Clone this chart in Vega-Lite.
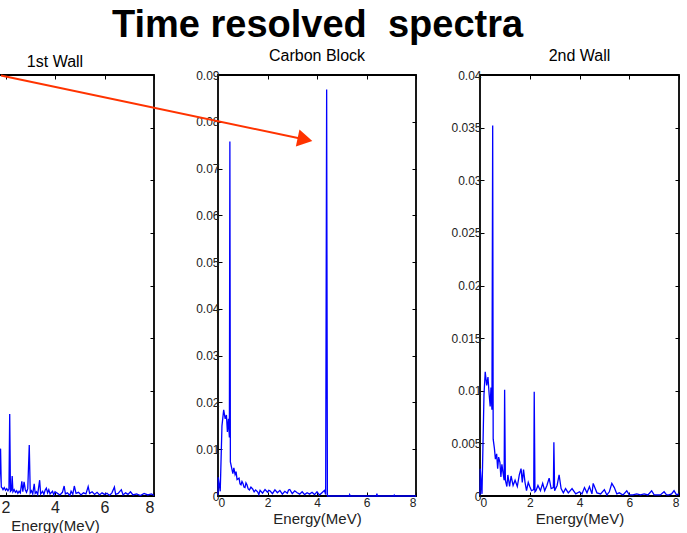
{
  "$schema": "https://vega.github.io/schema/vega-lite/v6.json",
  "background": "white",
  "padding": {"left": -48, "top": 7, "right": 4, "bottom": 0},
  "title": {"text": "Time resolved\u00a0 spectra", "font": "Liberation Sans", "fontSize": 38, "fontWeight": "bold", "anchor": "middle", "offset": 2, "color": "black"},
  "config": {
    "view": {"stroke": "black", "strokeWidth": 1.8},
    "title": {"font": "Liberation Sans", "fontSize": 16, "fontWeight": "normal", "color": "black", "offset": 5},
    "axis": {"domain": false, "grid": false, "tickColor": "black", "tickSize": -4, "tickWidth": 1, "labelFont": "Liberation Sans", "labelFontSize": 12, "labelColor": "#222", "titleFont": "Liberation Sans", "titleFontSize": 15, "titleFontWeight": "normal", "titleColor": "#222", "labelPadding": 4, "titlePadding": 4}
  },
  "datasets": {
    "wall1": [
      {"e": 0, "v": 0}, {"e": 0.05, "v": 0.006}, {"e": 0.1, "v": 0.012}, {"e": 0.2, "v": 0.016}, {"e": 0.3, "v": 0.015}, {"e": 0.4, "v": 0.013},
      {"e": 0.48, "v": 0.05}, {"e": 0.52, "v": 0.007}, {"e": 0.6, "v": 0.006}, {"e": 0.8, "v": 0.004}, {"e": 1.0, "v": 0.008}, {"e": 1.05, "v": 0.003},
      {"e": 1.2, "v": 0.003}, {"e": 1.4, "v": 0.002}, {"e": 1.6, "v": 0.0025}, {"e": 1.75, "v": 0.002}, {"e": 1.8, "v": 0.009}, {"e": 1.83, "v": 0.0017},
      {"e": 1.87, "v": 0.0015}, {"e": 1.9, "v": 0.0012}, {"e": 1.95, "v": 0.0016}, {"e": 2.0, "v": 0.0011}, {"e": 2.05, "v": 0.0014}, {"e": 2.1, "v": 0.001},
      {"e": 2.14, "v": 0.0013}, {"e": 2.17, "v": 0.0156}, {"e": 2.2, "v": 0.0009}, {"e": 2.24, "v": 0.0011}, {"e": 2.27, "v": 0.0038}, {"e": 2.3, "v": 0.0008},
      {"e": 2.35, "v": 0.0012}, {"e": 2.4, "v": 0.0007}, {"e": 2.45, "v": 0.001}, {"e": 2.5, "v": 0.0005}, {"e": 2.55, "v": 0.0009}, {"e": 2.6, "v": 0.0006},
      {"e": 2.66, "v": 0.0028}, {"e": 2.7, "v": 0.0008}, {"e": 2.75, "v": 0.0027}, {"e": 2.8, "v": 0.0012}, {"e": 2.85, "v": 0.0007}, {"e": 2.9, "v": 0.0014},
      {"e": 2.96, "v": 0.0097}, {"e": 3.0, "v": 0.0006}, {"e": 3.05, "v": 0.001}, {"e": 3.1, "v": 0.0004}, {"e": 3.16, "v": 0.0023}, {"e": 3.2, "v": 0.0005},
      {"e": 3.25, "v": 0.0008}, {"e": 3.3, "v": 0.0003}, {"e": 3.38, "v": 0.003}, {"e": 3.42, "v": 0.0004}, {"e": 3.5, "v": 0.0009}, {"e": 3.55, "v": 0.0003},
      {"e": 3.6, "v": 0.0011}, {"e": 3.65, "v": 0.0015}, {"e": 3.7, "v": 0.0006}, {"e": 3.75, "v": 0.0012}, {"e": 3.8, "v": 0.0004}, {"e": 3.9, "v": 0.0009},
      {"e": 3.95, "v": 0.0002}, {"e": 4.0, "v": 0.0008}, {"e": 4.1, "v": 0.0005}, {"e": 4.2, "v": 0.0002}, {"e": 4.3, "v": 0.0007}, {"e": 4.37, "v": 0.0019},
      {"e": 4.42, "v": 0.0004}, {"e": 4.5, "v": 0.0006}, {"e": 4.6, "v": 0.0001}, {"e": 4.65, "v": 0.0009}, {"e": 4.72, "v": 0.0003}, {"e": 4.78, "v": 0.0019},
      {"e": 4.85, "v": 0.0005}, {"e": 4.95, "v": 0.0007}, {"e": 5.05, "v": 0.0002}, {"e": 5.15, "v": 0.0006}, {"e": 5.25, "v": 0.0004}, {"e": 5.34, "v": 0.0018},
      {"e": 5.4, "v": 0.0005}, {"e": 5.5, "v": 0.0008}, {"e": 5.6, "v": 0.0003}, {"e": 5.7, "v": 0.0007}, {"e": 5.8, "v": 0.0002}, {"e": 5.9, "v": 0.0006},
      {"e": 6.0, "v": 0.0003}, {"e": 6.1, "v": 0.0005}, {"e": 6.2, "v": 0.0001}, {"e": 6.3, "v": 0.0006}, {"e": 6.4, "v": 0.0017}, {"e": 6.45, "v": 0.0003},
      {"e": 6.55, "v": 0.0005}, {"e": 6.68, "v": 0.0012}, {"e": 6.75, "v": 0.0002}, {"e": 6.85, "v": 0.0006}, {"e": 6.95, "v": 0.0003}, {"e": 7.05, "v": 0.0008},
      {"e": 7.15, "v": 0.0002}, {"e": 7.3, "v": 0.0004}, {"e": 7.45, "v": 0.0001}, {"e": 7.6, "v": 0.0005}, {"e": 7.75, "v": 0.0002}, {"e": 7.9, "v": 0.0004},
      {"e": 8.0, "v": 0.0001}
    ],
    "carbon": [
      {"e": 0, "v": 0.0002}, {"e": 0.01, "v": 0.004}, {"e": 0.09, "v": 0.001}, {"e": 0.16, "v": 0.015}, {"e": 0.23, "v": 0.0184}, {"e": 0.29, "v": 0.0165},
      {"e": 0.34, "v": 0.0173}, {"e": 0.38, "v": 0.0137}, {"e": 0.42, "v": 0.0165}, {"e": 0.46, "v": 0.0125}, {"e": 0.48, "v": 0.0758}, {"e": 0.5, "v": 0.0073},
      {"e": 0.56, "v": 0.0058}, {"e": 0.6, "v": 0.0048}, {"e": 0.64, "v": 0.006}, {"e": 0.69, "v": 0.0046}, {"e": 0.73, "v": 0.0052}, {"e": 0.77, "v": 0.0035},
      {"e": 0.85, "v": 0.0038}, {"e": 0.89, "v": 0.0026}, {"e": 0.93, "v": 0.0024}, {"e": 0.97, "v": 0.0031}, {"e": 1.01, "v": 0.0027}, {"e": 1.05, "v": 0.0019},
      {"e": 1.09, "v": 0.0018}, {"e": 1.13, "v": 0.0028}, {"e": 1.17, "v": 0.0024}, {"e": 1.22, "v": 0.0015}, {"e": 1.27, "v": 0.0013}, {"e": 1.33, "v": 0.0019},
      {"e": 1.4, "v": 0.0015}, {"e": 1.46, "v": 0.0009}, {"e": 1.52, "v": 0.0013}, {"e": 1.6, "v": 0.0009}, {"e": 1.65, "v": 0.0003}, {"e": 1.7, "v": 0.0012},
      {"e": 1.8, "v": 0.0006}, {"e": 1.9, "v": 0.0014}, {"e": 2.0, "v": 0.0008}, {"e": 2.05, "v": 0.0012}, {"e": 2.1, "v": 0.0011}, {"e": 2.2, "v": 0.0005},
      {"e": 2.3, "v": 0.0013}, {"e": 2.4, "v": 0.0007}, {"e": 2.5, "v": 0.0012}, {"e": 2.6, "v": 0.0004}, {"e": 2.7, "v": 0.001}, {"e": 2.8, "v": 0.0006},
      {"e": 2.85, "v": 0.0013}, {"e": 2.9, "v": 0.0014}, {"e": 3.0, "v": 0.0005}, {"e": 3.1, "v": 0.0011}, {"e": 3.2, "v": 0.0007}, {"e": 3.3, "v": 0.0004},
      {"e": 3.4, "v": 0.0009}, {"e": 3.5, "v": 0.0003}, {"e": 3.6, "v": 0.0007}, {"e": 3.7, "v": 0.0004}, {"e": 3.8, "v": 0.0008}, {"e": 3.9, "v": 0.0003},
      {"e": 4.0, "v": 0.0009}, {"e": 4.1, "v": 0.0002}, {"e": 4.2, "v": 0.0007}, {"e": 4.3, "v": 0.0012}, {"e": 4.35, "v": 0.0003}, {"e": 4.39, "v": 0.0869},
      {"e": 4.42, "v": 0}, {"e": 5.3, "v": 0}, {"e": 5.32, "v": 0.0003}, {"e": 5.34, "v": 0}, {"e": 6.4, "v": 0}, {"e": 6.42, "v": 0.0005},
      {"e": 6.44, "v": 0}, {"e": 7.1, "v": 0}, {"e": 7.12, "v": 0.0002}, {"e": 7.14, "v": 0}, {"e": 8.0, "v": 0}
    ],
    "wall2": [
      {"e": 0, "v": 0.0001}, {"e": 0.01, "v": 0.0026}, {"e": 0.08, "v": 0.0002}, {"e": 0.16, "v": 0.0096}, {"e": 0.21, "v": 0.0118}, {"e": 0.27, "v": 0.0105},
      {"e": 0.32, "v": 0.0113}, {"e": 0.37, "v": 0.0096}, {"e": 0.41, "v": 0.0085}, {"e": 0.44, "v": 0.0103}, {"e": 0.48, "v": 0.0082}, {"e": 0.51, "v": 0.0352},
      {"e": 0.53, "v": 0.0054}, {"e": 0.58, "v": 0.0045}, {"e": 0.62, "v": 0.0035}, {"e": 0.67, "v": 0.004}, {"e": 0.71, "v": 0.0026}, {"e": 0.75, "v": 0.0037},
      {"e": 0.8, "v": 0.0032}, {"e": 0.84, "v": 0.0018}, {"e": 0.88, "v": 0.003}, {"e": 0.92, "v": 0.0023}, {"e": 0.97, "v": 0.0015}, {"e": 0.99, "v": 0.0101},
      {"e": 1.02, "v": 0.0015}, {"e": 1.08, "v": 0.0009}, {"e": 1.12, "v": 0.002}, {"e": 1.19, "v": 0.0009}, {"e": 1.25, "v": 0.0019}, {"e": 1.33, "v": 0.001},
      {"e": 1.41, "v": 0.0015}, {"e": 1.5, "v": 0.0009}, {"e": 1.58, "v": 0.002}, {"e": 1.65, "v": 0.0026}, {"e": 1.7, "v": 0.0013}, {"e": 1.75, "v": 0.0025},
      {"e": 1.81, "v": 0.0013}, {"e": 1.87, "v": 0.0005}, {"e": 1.94, "v": 0.0013}, {"e": 2.0, "v": 0.0009}, {"e": 2.07, "v": 0.0005}, {"e": 2.16, "v": 0.0006},
      {"e": 2.18, "v": 0.0099}, {"e": 2.21, "v": 0.0004}, {"e": 2.25, "v": 0.0005}, {"e": 2.33, "v": 0.001}, {"e": 2.43, "v": 0.0005}, {"e": 2.52, "v": 0.0012},
      {"e": 2.6, "v": 0.0005}, {"e": 2.69, "v": 0.001}, {"e": 2.78, "v": 0.0017}, {"e": 2.86, "v": 0.0007}, {"e": 2.95, "v": 0.0008}, {"e": 2.97, "v": 0.0051},
      {"e": 3.0, "v": 0.0005}, {"e": 3.1, "v": 0.001}, {"e": 3.18, "v": 0.002}, {"e": 3.26, "v": 0.0007}, {"e": 3.35, "v": 0.0003}, {"e": 3.44, "v": 0.0007},
      {"e": 3.55, "v": 0.0003}, {"e": 3.7, "v": 0.0007}, {"e": 3.85, "v": 0.0002}, {"e": 4.0, "v": 0.0004}, {"e": 4.1, "v": 0.0002}, {"e": 4.2, "v": 0.0008},
      {"e": 4.3, "v": 0.0003}, {"e": 4.4, "v": 0.0009}, {"e": 4.5, "v": 0.0002}, {"e": 4.55, "v": 0.0012}, {"e": 4.7, "v": 0.0003}, {"e": 4.85, "v": 0.0002},
      {"e": 5.0, "v": 0.0006}, {"e": 5.1, "v": 0.0001}, {"e": 5.2, "v": 0.0004}, {"e": 5.3, "v": 0.0012}, {"e": 5.4, "v": 0.0008}, {"e": 5.5, "v": 0.0002},
      {"e": 5.6, "v": 0.0003}, {"e": 5.75, "v": 0.0001}, {"e": 5.9, "v": 0.0005}, {"e": 6.0, "v": 0.0001}, {"e": 6.15, "v": 0.0001}, {"e": 6.3, "v": 0.0002},
      {"e": 6.45, "v": 0.0001}, {"e": 6.6, "v": 0.0002}, {"e": 6.75, "v": 0.0001}, {"e": 6.9, "v": 0.0005}, {"e": 7.0, "v": 0.0001}, {"e": 7.1, "v": 0.0001},
      {"e": 7.25, "v": 0.0001}, {"e": 7.4, "v": 0.0004}, {"e": 7.5, "v": 0.0001}, {"e": 7.6, "v": 0.0001}, {"e": 7.7, "v": 0.0002}, {"e": 7.8, "v": 0.0005},
      {"e": 7.9, "v": 0.0001}, {"e": 8.0, "v": 0.0002}
    ],
    "arrow": [
      {"e": -8.77, "v": 0.0899, "e2": 3.515, "v2": 0.0762}
    ]
  },
  "hconcat": [
    {
      "width": 198, "height": 421,
      "title": "1st Wall",
      "data": {"name": "wall1"},
      "layer": [
        {
          "mark": {"type": "line", "color": "#0000ff", "strokeWidth": 1.3},
          "encoding": {
            "x": {"field": "e", "type": "quantitative", "scale": {"domain": [0, 8], "nice": false, "zero": false},
                  "axis": {"orient": "bottom", "values": [0, 2, 4, 6, 8], "title": "Energy(MeV)", "labelFontSize": 16, "titleFontSize": 15, "labelPadding": 7, "titlePadding": 3}},
            "y": {"field": "v", "type": "quantitative", "scale": {"domain": [0, 0.08], "nice": false},
                  "axis": {"orient": "left", "values": [0, 0.01, 0.02, 0.03, 0.04, 0.05, 0.06, 0.07, 0.08], "labels": false, "title": null}}
          }
        },
        {
          "mark": {"type": "line", "opacity": 0},
          "encoding": {
            "x": {"field": "e", "type": "quantitative", "scale": {"domain": [0, 8], "nice": false, "zero": false},
                  "axis": {"orient": "top", "values": [0, 2, 4, 6, 8], "labels": false, "title": null}},
            "y": {"field": "v", "type": "quantitative", "scale": {"domain": [0, 0.08], "nice": false},
                  "axis": {"orient": "right", "values": [0, 0.01, 0.02, 0.03, 0.04, 0.05, 0.06, 0.07, 0.08], "labels": false, "title": null}}
          }
        }
      ],
      "resolve": {"axis": {"x": "independent", "y": "independent"}}
    },
    {
      "width": 198, "height": 421,
      "title": "Carbon Block",
      "layer": [
        {
          "data": {"name": "carbon"},
          "mark": {"type": "line", "color": "#0000ff", "strokeWidth": 1.3},
          "encoding": {
            "x": {"field": "e", "type": "quantitative", "scale": {"domain": [0, 8], "nice": false, "zero": false},
                  "axis": {"orient": "bottom", "values": [0, 2, 4, 6, 8], "title": "Energy(MeV)", "labelFontSize": 12, "labelPadding": 5, "titlePadding": 3}},
            "y": {"field": "v", "type": "quantitative", "scale": {"domain": [0, 0.09], "nice": false},
                  "axis": {"orient": "left", "values": [0, 0.01, 0.02, 0.03, 0.04, 0.05, 0.06, 0.07, 0.08, 0.09], "format": "~g", "title": null, "labelFontSize": 12, "labelPadding": 3}}
          }
        },
        {
          "data": {"name": "carbon"},
          "mark": {"type": "line", "opacity": 0},
          "encoding": {
            "x": {"field": "e", "type": "quantitative", "scale": {"domain": [0, 8], "nice": false, "zero": false},
                  "axis": {"orient": "top", "values": [0, 2, 4, 6, 8], "labels": false, "title": null}},
            "y": {"field": "v", "type": "quantitative", "scale": {"domain": [0, 0.09], "nice": false},
                  "axis": {"orient": "right", "values": [0, 0.01, 0.02, 0.03, 0.04, 0.05, 0.06, 0.07, 0.08, 0.09], "labels": false, "title": null}}
          }
        },
        {
          "data": {"name": "arrow"},
          "mark": {"type": "rule", "color": "#ff3300", "strokeWidth": 2},
          "encoding": {
            "x": {"field": "e", "type": "quantitative", "scale": {"domain": [0, 8], "nice": false, "zero": false}, "axis": null},
            "y": {"field": "v", "type": "quantitative", "scale": {"domain": [0, 0.09], "nice": false}, "axis": null},
            "x2": {"field": "e2"},
            "y2": {"field": "v2"}
          }
        },
        {
          "data": {"name": "arrow"},
          "mark": {"type": "point", "shape": "triangle-right", "filled": true, "color": "#ff3300", "opacity": 1, "size": 300, "angle": 12},
          "encoding": {
            "x": {"field": "e2", "type": "quantitative", "scale": {"domain": [0, 8], "nice": false, "zero": false}, "axis": null},
            "y": {"field": "v2", "type": "quantitative", "scale": {"domain": [0, 0.09], "nice": false}, "axis": null}
          }
        }
      ],
      "resolve": {"axis": {"x": "independent", "y": "independent"}}
    },
    {
      "width": 199, "height": 421,
      "title": "2nd Wall",
      "data": {"name": "wall2"},
      "layer": [
        {
          "mark": {"type": "line", "color": "#0000ff", "strokeWidth": 1.3},
          "encoding": {
            "x": {"field": "e", "type": "quantitative", "scale": {"domain": [0, 8], "nice": false, "zero": false},
                  "axis": {"orient": "bottom", "values": [0, 2, 4, 6, 8], "title": "Energy(MeV)", "labelFontSize": 12, "labelPadding": 5, "titlePadding": 3}},
            "y": {"field": "v", "type": "quantitative", "scale": {"domain": [0, 0.04], "nice": false},
                  "axis": {"orient": "left", "values": [0, 0.005, 0.01, 0.015, 0.02, 0.025, 0.03, 0.035, 0.04], "format": "~g", "title": null, "labelFontSize": 12, "labelPadding": 3}}
          }
        },
        {
          "mark": {"type": "line", "opacity": 0},
          "encoding": {
            "x": {"field": "e", "type": "quantitative", "scale": {"domain": [0, 8], "nice": false, "zero": false},
                  "axis": {"orient": "top", "values": [0, 2, 4, 6, 8], "labels": false, "title": null}},
            "y": {"field": "v", "type": "quantitative", "scale": {"domain": [0, 0.04], "nice": false},
                  "axis": {"orient": "right", "values": [0, 0.005, 0.01, 0.015, 0.02, 0.025, 0.03, 0.035, 0.04], "labels": false, "title": null}}
          }
        }
      ],
      "resolve": {"axis": {"x": "independent", "y": "independent"}}
    }
  ],
  "spacing": 64,
  "bounds": "flush"
}
